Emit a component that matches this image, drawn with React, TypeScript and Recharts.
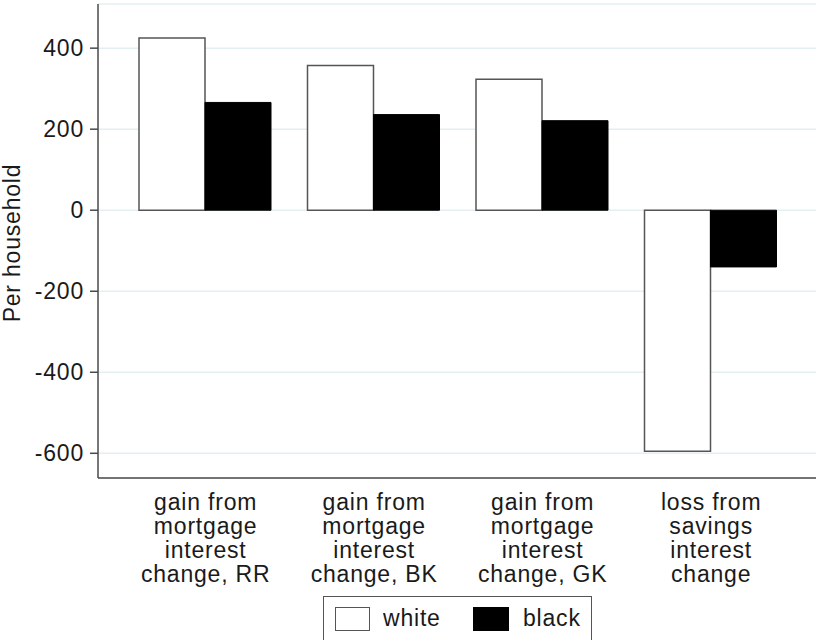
import React from "react";
import { BarChart, Bar, XAxis, YAxis, CartesianGrid } from "recharts";

const categories = [
  ["gain from", "mortgage", "interest", "change, RR"],
  ["gain from", "mortgage", "interest", "change, BK"],
  ["gain from", "mortgage", "interest", "change, GK"],
  ["loss from", "savings", "interest", "change"],
];
const whiteValues = [425, 357, 323, -595];
const blackValues = [266, 236, 221, -140];
const yTicks = [-600, -400, -200, 0, 200, 400];
const seriesNames = ["white", "black"];

const data = categories.map((lines, i) => ({
  name: lines.join("\n"),
  white: whiteValues[i],
  black: blackValues[i],
}));

const FONT = "'Liberation Sans', Arial, Helvetica, sans-serif";
const FS = 23;
const LS = 0.8;
const AXIS = "#4a4a4a";
const TXT = "#1a1a1a";

const CatTick = (props: any) => {
  const { x, y, payload } = props;
  const lines = String(payload.value).split("\n");
  return (
    <text x={x} y={y} textAnchor="middle" fontFamily={FONT} fontSize={FS} letterSpacing={LS} fill={TXT}>
      {lines.map((l, i) => (
        <tspan key={i} x={x + LS / 2} dy={i === 0 ? 32 : 24}>
          {l}
        </tspan>
      ))}
    </text>
  );
};

const YLabel = (props: any) => {
  const vb = props.viewBox || { y: 4, height: 474 };
  const cy = vb.y + vb.height / 2 + 2;
  return (
    <text
      transform={`translate(19.5, ${cy}) rotate(-90)`}
      textAnchor="middle"
      fontFamily={FONT}
      fontSize={FS}
      letterSpacing={LS}
      fill={TXT}
    >
      Per household
    </text>
  );
};

export default function App() {
  return (
    <div style={{ position: "absolute", left: 0, top: 0, width: 816, height: 640, background: "#fff", overflow: "hidden" }}>
      <BarChart
        width={816}
        height={640}
        data={data}
        margin={{ top: 4, right: 0, bottom: 0, left: 0 }}
        barGap={0}
        barSize={66}
      >
        <CartesianGrid horizontal vertical={false} stroke="#e4eff2" strokeWidth={1.5} />
        <XAxis
          dataKey="name"
          interval={0}
          height={162}
          padding={{ left: 23, right: 21 }}
          tickLine={false}
          tickSize={0}
          tickMargin={0}
          axisLine={{ stroke: AXIS, strokeWidth: 1.5 }}
          tick={<CatTick />}
        />
        <YAxis
          width={98}
          domain={[-661, 509]}
          ticks={yTicks}
          allowDataOverflow
          tickSize={8}
          tickMargin={6}
          axisLine={{ stroke: AXIS, strokeWidth: 1.5 }}
          tickLine={{ stroke: AXIS, strokeWidth: 1.5 }}
          tick={{ fontFamily: FONT, fontSize: FS, letterSpacing: LS, fill: TXT }}
          label={<YLabel />}
        />
        <Bar dataKey="white" name={seriesNames[0]} fill="#ffffff" stroke="#555" strokeWidth={1.5} isAnimationActive={false} />
        <Bar dataKey="black" name={seriesNames[1]} fill="#000000" stroke="#000" strokeWidth={1} isAnimationActive={false} />
      </BarChart>
      <div
        style={{
          position: "absolute",
          left: 323,
          top: 596,
          width: 269,
          height: 60,
          border: "1.5px solid #555",
          boxSizing: "border-box",
          fontFamily: FONT,
          fontSize: FS,
          letterSpacing: LS,
          color: TXT,
        }}
      >
        <div style={{ position: "absolute", left: 11, top: 10, width: 35, height: 24, border: "1.5px solid #555", background: "#fff", boxSizing: "border-box" }} />
        <div style={{ position: "absolute", left: 59, top: 8, lineHeight: "26px" }}>{seriesNames[0]}</div>
        <div style={{ position: "absolute", left: 149, top: 10, width: 36, height: 24, background: "#000" }} />
        <div style={{ position: "absolute", left: 199, top: 8, lineHeight: "26px" }}>{seriesNames[1]}</div>
      </div>
    </div>
  );
}
